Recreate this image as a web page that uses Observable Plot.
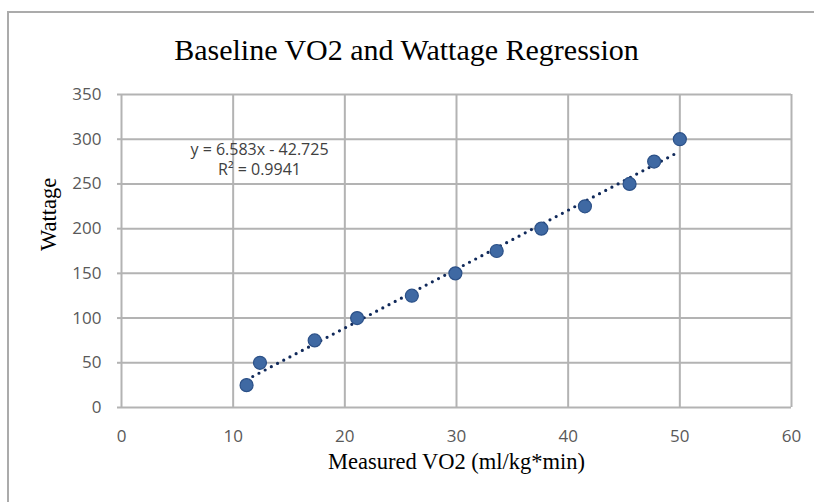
<!DOCTYPE html>
<html>
<head>
<meta charset="utf-8">
<script src="https://cdn.jsdelivr.net/npm/d3@7"></script>
<script src="https://cdn.jsdelivr.net/npm/@observablehq/plot@0.6"></script>
<style>
  html, body { margin: 0; padding: 0; background: #fff; overflow: hidden; }
  #wrap { position: relative; width: 814px; height: 502px; }
  #border { position: absolute; left: 7px; top: 11px; width: 830px; height: 520px; border: 2px solid #ababab; box-sizing: border-box; }
  #chart { position: absolute; left: 0; top: 0; }
</style>
</head>
<body>
<div id="wrap"><div id="border"></div><div id="chart"></div></div>
<script>
const title = "Baseline VO2 and Wattage Regression";
const xLabel = "Measured VO2 (ml/kg*min)";
const yLabel = "Wattage";
const vo2 = [11.2, 12.4, 17.3, 21.1, 26.0, 29.9, 33.6, 37.6, 41.5, 45.5, 47.7, 50.0];
const wattage = [25, 50, 75, 100, 125, 150, 175, 200, 225, 250, 275, 300];
const xTicks = [0, 10, 20, 30, 40, 50, 60];
const yTicks = [0, 50, 100, 150, 200, 250, 300, 350];
const slope = 6.583;
const intercept = -42.725;
const r2 = 0.9941;
const equationLines = [`y = ${slope}x - ${Math.abs(intercept)}`, `R² = ${r2}`];

const points = vo2.map((v, i) => ({x: v, y: wattage[i]}));
const xMin = d3.min(vo2), xMax = d3.max(vo2);
const trend = [xMin, xMax].map(x => ({x, y: slope * x + intercept}));

const gridColor = "#b3b3b3";
const sans = "'Open Sans', sans-serif";
const serif = "'Liberation Serif', 'Times New Roman', serif";

const chart = Plot.plot({
  width: 814,
  height: 502,
  marginLeft: 121,
  marginRight: 23,
  marginTop: 94,
  marginBottom: 95,
  style: {background: "transparent", overflow: "visible"},
  x: {domain: [0, 60]},
  y: {domain: [0, 350]},
  marks: [
    Plot.gridX(xTicks, {stroke: gridColor, strokeOpacity: 1, strokeWidth: 2}),
    Plot.gridY(yTicks, {stroke: gridColor, strokeOpacity: 1, strokeWidth: 2}),
    Plot.axisY(yTicks, {tickSize: 4, stroke: gridColor, strokeWidth: 2, text: null, label: null}),
    Plot.axisY(yTicks, {tickSize: 0, tickPadding: 20, fill: "#595959", fontSize: 17, fontFamily: sans, label: null}),
    Plot.axisX(xTicks, {tickSize: 0, tickPadding: 22, fill: "#595959", fontSize: 17, fontFamily: sans, label: null}),
    Plot.line(trend, {x: "x", y: "y", stroke: "#10295a", strokeWidth: 3.2, strokeDasharray: "0 7", strokeLinecap: "round"}),
    Plot.dot(points, {x: "x", y: "y", r: 6.5, fill: "#3f69a3", stroke: "#2c5188", strokeWidth: 1.2}),
    Plot.text([equationLines[0]], {frameAnchor: "top-left", dx: 138, dy: 49, fontSize: 16, fontFamily: sans, fill: "#404040", textAnchor: "middle"}),
    Plot.text([equationLines[1]], {frameAnchor: "top-left", dx: 138, dy: 69, fontSize: 16, fontFamily: sans, fill: "#404040", textAnchor: "middle"}),
    Plot.text([title], {frameAnchor: "top", dx: -50, dy: -56, fontSize: 30, fontFamily: serif, fill: "#000"}),
    Plot.text([xLabel], {frameAnchor: "bottom", dy: 61, fontSize: 22.5, fontFamily: serif, fill: "#000"}),
    Plot.text([yLabel], {frameAnchor: "left", dx: -73, rotate: -90, fontSize: 22.5, fontFamily: serif, fill: "#000"})
  ]
});
document.getElementById("chart").appendChild(chart);
</script>
</body>
</html>
